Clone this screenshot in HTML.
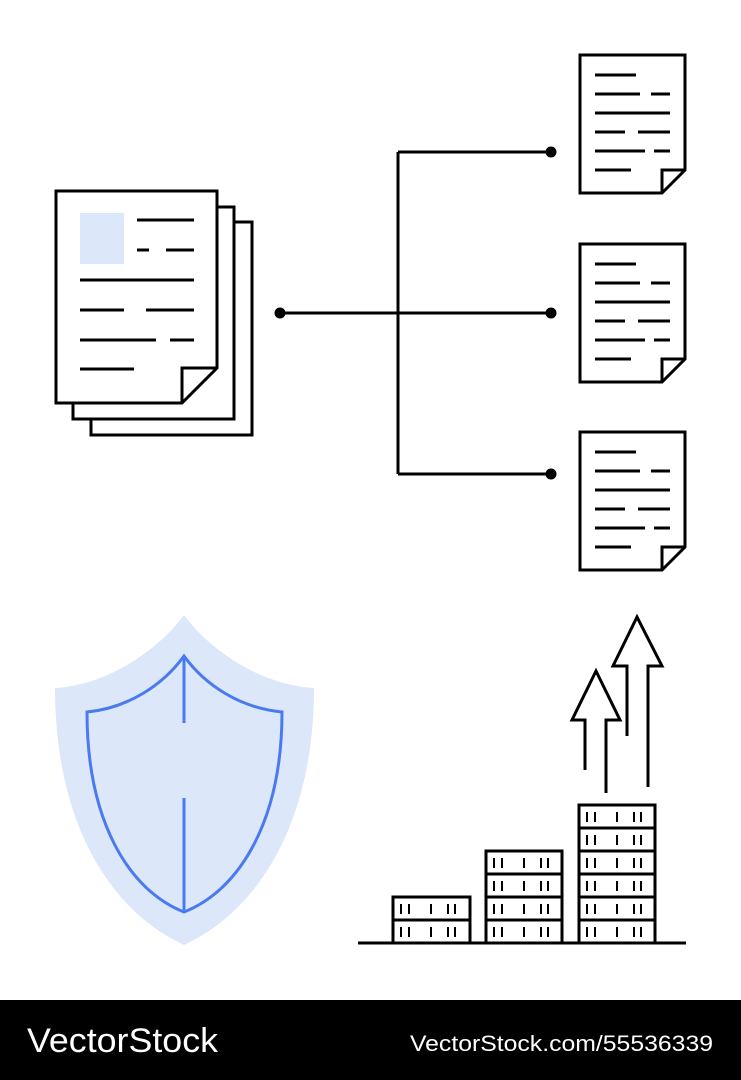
<!DOCTYPE html>
<html><head><meta charset="utf-8"><style>html,body{margin:0;padding:0;background:#fff}svg{display:block}</style></head>
<body>
<svg width="741" height="1080" viewBox="0 0 741 1080" xmlns="http://www.w3.org/2000/svg">
<defs>
<g id="doc" fill="none" stroke="#000" stroke-width="3">
<path d="M580,55 H685 V170 L662,193 H580 Z" fill="#fff"/>
<path d="M685,170 H662 V193"/>
<path d="M595,75H636M595,94H640M651,94H670M595,113H670M595,132H625M638,132H670M595,151H645M654,151H670M595,170H631"/>
</g>
<g id="row" stroke="#000" stroke-width="2" fill="none">
<path d="M8,7V17M16,7V17M38,7V17M55,7V17M62,7V17"/>
</g>
</defs>
<!-- stacked docs -->
<g fill="#fff" stroke="#000" stroke-width="3">
<rect x="91" y="222" width="161" height="213"/>
<rect x="73" y="207" width="161" height="212"/>
<path d="M56,191 H217 V368 L182,403 H56 Z"/>
<path d="M217,368 H182 V403" fill="none"/>
</g>
<rect x="80" y="213" width="44" height="51" fill="#dce7f9"/>
<path d="M137,220H194M137,250H149M166,250H194M80,280H194M80,310H124M146,310H194M80,340H156M170,340H194M80,369H134" stroke="#000" stroke-width="3"/>
<!-- connector -->
<g stroke="#000" stroke-width="3" fill="none">
<path d="M280,313H551M398,152V474M398,152H551M398,474H551"/>
</g>
<g fill="#000"><circle cx="280" cy="313" r="5.5"/><circle cx="551" cy="152" r="5.5"/><circle cx="551" cy="313" r="5.5"/><circle cx="551" cy="474" r="5.5"/></g>
<use href="#doc"/>
<use href="#doc" y="189"/>
<use href="#doc" y="377"/>
<!-- shield -->
<path d="M184,615 C210,650 260,685 314,688 C314,820 260,910 184,945 C108,910 55,820 55,688 C108,685 158,650 184,615 Z" fill="#dce7f9"/>
<g fill="none" stroke="#4a7af0" stroke-width="3">
<path d="M184,656 C205,685 240,708 282,712 C282,820 240,890 184,912 C128,890 87,820 87,712 C128,708 163,685 184,656 Z"/>
<path d="M184,656V723M184,798V912"/>
</g>
<!-- chart -->
<g fill="#fff" stroke="#000" stroke-width="3">
<rect x="393" y="897" width="77" height="46"/>
<rect x="486" y="851" width="76" height="92"/>
<rect x="579" y="805" width="76" height="138"/>
</g>
<path d="M393,920H470M486,874H562M486,897H562M486,920H562M579,828H655M579,851H655M579,874H655M579,897H655M579,920H655" stroke="#000" stroke-width="3"/>
<use href="#row" x="393" y="897"/><use href="#row" x="393" y="920"/>
<use href="#row" x="486" y="851"/><use href="#row" x="486" y="874"/><use href="#row" x="486" y="897"/><use href="#row" x="486" y="920"/>
<use href="#row" x="579" y="805"/><use href="#row" x="579" y="828"/><use href="#row" x="579" y="851"/><use href="#row" x="579" y="874"/><use href="#row" x="579" y="897"/><use href="#row" x="579" y="920"/>
<path d="M358,943H686" stroke="#000" stroke-width="3"/>
<g fill="none" stroke="#000" stroke-width="3">
<path d="M585,770V720H572L596,671L620,720H606V793"/>
<path d="M627,736V666H613L637,617L662,666H648V787"/>
</g>
<!-- footer -->
<rect x="0" y="1000" width="741" height="80" fill="#000"/>
<text x="27" y="1052" font-family="Liberation Sans, sans-serif" font-size="34" fill="#fff" textLength="191" lengthAdjust="spacingAndGlyphs">VectorStock</text>
<text x="410" y="1051" font-family="Liberation Sans, sans-serif" font-size="22" fill="#fff" textLength="303" lengthAdjust="spacingAndGlyphs">VectorStock.com/55536339</text>
</svg>
</body></html>
